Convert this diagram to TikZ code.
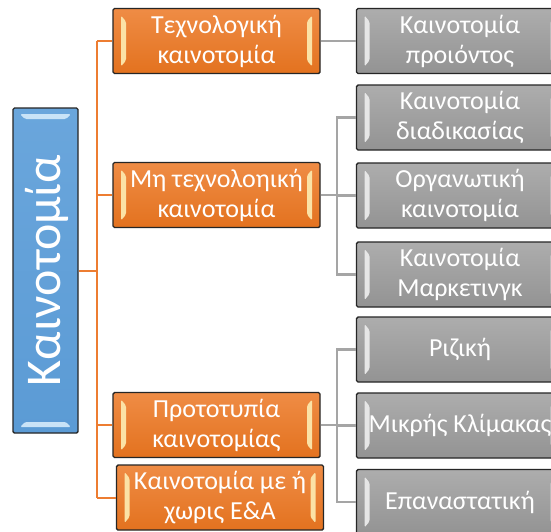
\documentclass[tikz,border=0pt]{standalone}
\usepackage{fontspec}
\setmainfont{Carlito}
\usetikzlibrary{calc}
\definecolor{orngL}{HTML}{EF8C45}
\definecolor{orngD}{HTML}{E3721F}
\definecolor{grayL}{HTML}{ADADAD}
\definecolor{grayD}{HTML}{939393}
\definecolor{blueF}{HTML}{5B9BD5}
\definecolor{blueL}{HTML}{6AA6DC}
\definecolor{oline}{HTML}{ED7D31}
\definecolor{gline}{HTML}{A5A5A5}
\definecolor{ostrip}{HTML}{FBE2A6}
\definecolor{gstrip}{HTML}{E6E6E6}
\definecolor{bstrip}{HTML}{C9E3F7}
\newcommand\bevelstrips[1]{%
  \fill[#1] ($(path picture bounding box.north west)+(8,7)$) -- ($(path picture bounding box.north west)+(13,13)$) -- ($(path picture bounding box.south west)+(13,-13)$) -- ($(path picture bounding box.south west)+(8,-7)$) -- cycle;
  \fill[#1] ($(path picture bounding box.north east)+(-8,7)$) -- ($(path picture bounding box.north east)+(-13,13)$) -- ($(path picture bounding box.south east)+(-13,-13)$) -- ($(path picture bounding box.south east)+(-8,-7)$) -- cycle;}
\newcommand\bevelstripsV[1]{%
  \fill[#1] ($(path picture bounding box.north west)+(7,6)$) -- ($(path picture bounding box.north east)+(-7,6)$) -- ($(path picture bounding box.north east)+(-12,11)$) -- ($(path picture bounding box.north west)+(12,11)$) -- cycle;
  \fill[#1] ($(path picture bounding box.south west)+(7,-6)$) -- ($(path picture bounding box.south east)+(-7,-6)$) -- ($(path picture bounding box.south east)+(-12,-11)$) -- ($(path picture bounding box.south west)+(12,-11)$) -- cycle;}
\tikzset{
  basebox/.style={draw=black!85, line width=1.4pt, rounded corners=1.5pt,
    minimum width=207pt, minimum height=65pt, inner sep=0pt, align=center,
    text=white, font=\fontsize{26}{30}\selectfont},
  obox/.style={basebox, top color=orngL, bottom color=orngD, path picture={\bevelstrips{ostrip}}},
  gbox/.style={basebox, top color=grayL, bottom color=grayD, path picture={\bevelstrips{gstrip}}},
  bbox/.style={basebox, top color=blueL, bottom color=blueF, path picture={\bevelstripsV{bstrip}}},
  oconn/.style={draw=oline, line width=2pt},
  gconn/.style={draw=gline, line width=2.5pt},
}
\begin{document}
\begin{tikzpicture}[x=1pt,y=-1pt]
\clip (0,0) rectangle (551,531);
\fill[white] (0,0) rectangle (551,531);

\coordinate (tt) at (97,41);
\coordinate (tb) at (97,497.5);
\coordinate (gt) at (337,0);

% root
\node[bbox, minimum width=65pt, minimum height=325pt] (root) at (45.5,270.5) {};
\node[font=\fontsize{50}{54}\selectfont, text=white, rotate=90] (roottext) at (47,270.5) {Καινοτομία};

% orange
\node[obox] (o1) at (216.5,41) {Τεχνολογική\\καινοτομία};
\node[obox] (o2) at (216.5,195) {Μη τεχνολοηική\\καινοτομία};
\node[obox] (o3) at (216.5,425) {Προτοτυπία\\καινοτομίας};
\node[obox] (o4) at (220,497.5) {Καινοτομία με ή\\χωρις Ε\&Α};

% gray
\node[gbox] (g1) at (460,41) {Καινοτομία\\προιόντος};
\node[gbox] (g2) at (460,117.5) {Καινοτομία\\διαδικασίας};
\node[gbox] (g3) at (460,195.5) {Οργανωτική\\καινοτομία};
\node[gbox] (g4) at (460,274.5) {Καινοτομία\\Μαρκετινγκ};
\node[gbox] (g5) at (460,349.5) {Ριζική};
\node[gbox] (g6) at (460,425.5) {Μικρής Κλίμακας};
\node[gbox] (g7) at (460,502) {Επαναστατική};

% orange connectors
\draw[oconn] (tt) -- (tb);
\draw[oconn] (root.east) -- (root.east -| tt);
\foreach \n in {o1,o2,o3,o4} \draw[oconn] (\n.west) -- (\n.west -| tt);

% gray connectors
\draw[gconn] (o1.east) -- (g1.west);
\draw[gconn] (o2.east) -- (o2.east -| gt);
\draw[gconn] (g2.west) -- (g2.west -| gt) -- (g4.west -| gt) -- (g4.west);
\draw[gconn] (g3.west) -- (g3.west -| gt);
\draw[gconn] (o3.east) -- (o3.east -| gt);
\draw[gconn] (g5.west) -- (g5.west -| gt) -- (g7.west -| gt) -- (g7.west);
\draw[gconn] (g6.west) -- (g6.west -| gt);
\end{tikzpicture}
\end{document}
